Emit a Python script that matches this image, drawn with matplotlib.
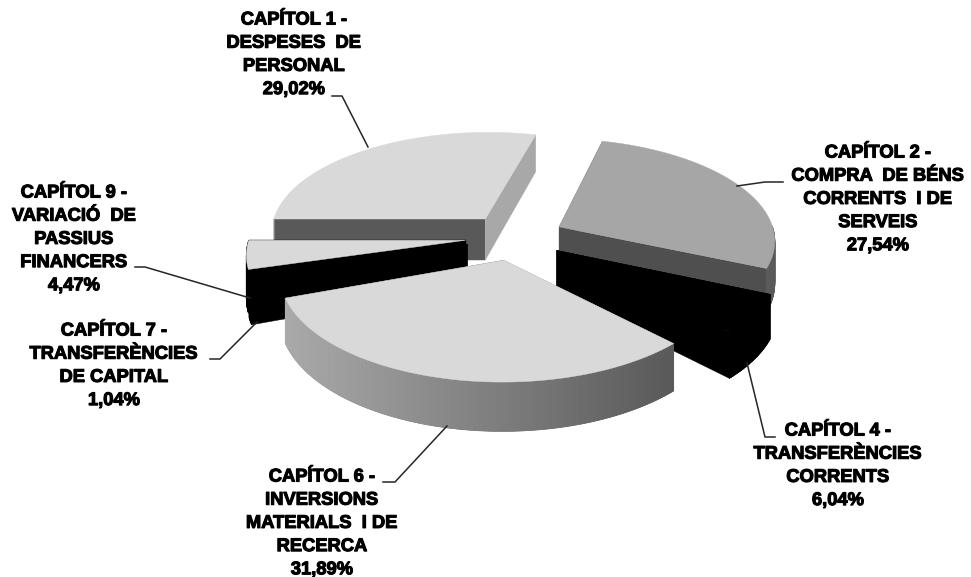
#!/usr/bin/env python
# -*- coding: utf-8 -*-
"""Pastis 3D separat (escala de grisos) amb les etiquetes dels capitols."""

import numpy as np
import matplotlib
matplotlib.use("Agg")
import matplotlib.pyplot as plt
import matplotlib.patheffects as pe
from matplotlib.colors import to_rgb
from matplotlib.patches import Polygon

# dades
chapters = ["1", "2", "4", "6", "7", "9"]
shares = [29.02, 27.54, 6.04, 31.89, 1.04, 4.47]
names = [
    "CAPÍTOL 1 -\nDESPESES  DE\nPERSONAL",
    "CAPÍTOL 2 -\nCOMPRA  DE BÉNS\nCORRENTS  I DE\nSERVEIS",
    "CAPÍTOL 4 -\nTRANSFERÈNCIES\nCORRENTS",
    "CAPÍTOL 6 -\nINVERSIONS\nMATERIALS  I DE\nRECERCA",
    "CAPÍTOL 7 -\nTRANSFERÈNCIES\nDE CAPITAL",
    "CAPÍTOL 9 -\nVARIACIÓ  DE\nPASSIUS\nFINANCERS",
]

# geometria de la vista (pixels de la imatge)
CX, CY = 515, 237
RADIUS = 216
SQUASH = 0.468
DEPTH = 42
PERSP = 0.12
EXPLODE = 0.23
START = 180.0

# colors: superficie, parets radials, paret exterior (esquerra -> dreta)
TOP = {"1": "#d9d9d9", "2": "#a6a6a6", "4": "#000000", "6": "#d9d9d9", "7": "#000000", "9": "#d9d9d9"}
WALL_A = {"1": "#595959", "2": "#595959", "4": "#000000", "6": "#8c8c8c", "7": "#000000", "9": "#000000"}
WALL_B = {"1": "#a8a8a8", "2": "#4f4f4f", "4": "#000000", "6": "#5a5a5a", "7": "#000000", "9": "#000000"}
ARC_L = {"1": "#a6a6a6", "2": "#6a6a6a", "4": "#000000", "6": "#aaaaaa", "7": "#000000", "9": "#000000"}
ARC_R = {"1": "#a6a6a6", "2": "#5a5a5a", "4": "#000000", "6": "#595959", "7": "#000000", "9": "#000000"}

DRAW_ORDER = ["1", "2", "4", "9", "7", "6"]

# posicio de cada etiqueta: centre x, y de la primera linia
LABEL_POS = {
    "1": (294, 20), "2": (878, 153), "4": (838, 431),
    "6": (322, 477), "7": (114, 331), "9": (74, 193),
}
LEADERS = {
    "1": [(332, 96), (342, 96), (368, 147)],
    "2": [(783, 182), (765, 182), (737, 186)],
    "4": [(775, 437), (765, 437), (747, 363)],
    "6": [(383, 482), (395, 482), (447, 426)],
    "7": [(210, 359), (220, 359), (257, 322)],
    "9": [(135, 267), (145, 267), (250, 298)],
}
LINE_STEP = 23.2


def project(u, v, z):
    w = 1.0 / (1.0 + PERSP * v)
    return CX + RADIUS * u * w, CY - RADIUS * SQUASH * v * w + DEPTH * z * w


def draw_slice(ax, a0, a1, chapter):
    mid = np.radians((a0 + a1) / 2)
    ox, oy = EXPLODE * np.cos(mid), EXPLODE * np.sin(mid)
    n = max(4, int(abs(a0 - a1) * 1.5))
    ang = np.radians(np.linspace(a0, a1, n))
    us = ox + np.cos(ang)
    vs = oy + np.sin(ang)

    def ring(z):
        return np.column_stack(project(us, vs, z))

    def radial(k):
        return [project(ox, oy, 0), project(us[k], vs[k], 0),
                project(us[k], vs[k], 1), project(ox, oy, 1)]

    wa = WALL_A[chapter]
    wb = WALL_B[chapter]
    ax.add_patch(Polygon(radial(0), closed=True, fc=wa, ec=wa, lw=0.3))
    ax.add_patch(Polygon(radial(-1), closed=True, fc=wb, ec=wb, lw=0.3))

    # paret exterior amb degradat, nomes la part que mira endavant
    top_ring = ring(0)
    low_ring = ring(1)
    left = np.array(to_rgb(ARC_L[chapter]))
    right = np.array(to_rgb(ARC_R[chapter]))
    xs = top_ring[:, 0]
    span = max(xs.max() - xs.min(), 1)
    front = np.sin(ang) <= 0.02
    if front.sum() > 1:
        # base sota les tires, perque no es vegin les juntes
        base = np.vstack([top_ring[front], low_ring[front][::-1]])
        mean = (left + right) / 2
        ax.add_patch(Polygon(base, closed=True, fc=mean, ec=mean, lw=0.3))
    for i in range(n - 1):
        if np.sin((ang[i] + ang[i + 1]) / 2) > 0:
            continue
        t = ((xs[i] + xs[i + 1]) / 2 - xs.min()) / span
        c = left + (right - left) * t
        quad = [top_ring[i], top_ring[i + 1], low_ring[i + 1], low_ring[i]]
        ax.add_patch(Polygon(quad, closed=True, fc=c, ec=c, lw=0.6))

    # superficie
    apex = np.array([project(ox, oy, 0)])
    ax.add_patch(Polygon(np.vstack([apex, top_ring]), closed=True,
                         fc=TOP[chapter], ec=TOP[chapter], lw=0.3))


def main():
    fig = plt.figure(figsize=(9.71, 5.77), dpi=100)
    ax = fig.add_axes([0, 0, 1, 1])
    ax.set_xlim(0, 971)
    ax.set_ylim(577, 0)
    ax.axis("off")

    edges = START - np.cumsum([0] + shares) * 3.6
    spans = {c: (edges[i], edges[i + 1]) for i, c in enumerate(chapters)}
    for c in DRAW_ORDER:
        draw_slice(ax, spans[c][0], spans[c][1], c)

    for c in chapters:
        xs, ys = zip(*LEADERS[c])
        ax.plot(xs, ys, color="#262626", lw=1.1, solid_joinstyle="miter")

    for c, name, share in zip(chapters, names, shares):
        x, y = LABEL_POS[c]
        lines = name.split("\n") + [f"{share:.2f}%".replace(".", ",")]
        for i, line in enumerate(lines):
            ax.text(x, y + i * LINE_STEP, line, ha="center", va="center",
                    family="Liberation Sans", weight="bold", fontsize=13.2,
                    color="black",
                    path_effects=[pe.withStroke(linewidth=0.8, foreground="black")])

    fig.savefig("out.png", dpi=100)
    plt.close(fig)


if __name__ == "__main__":
    main()
